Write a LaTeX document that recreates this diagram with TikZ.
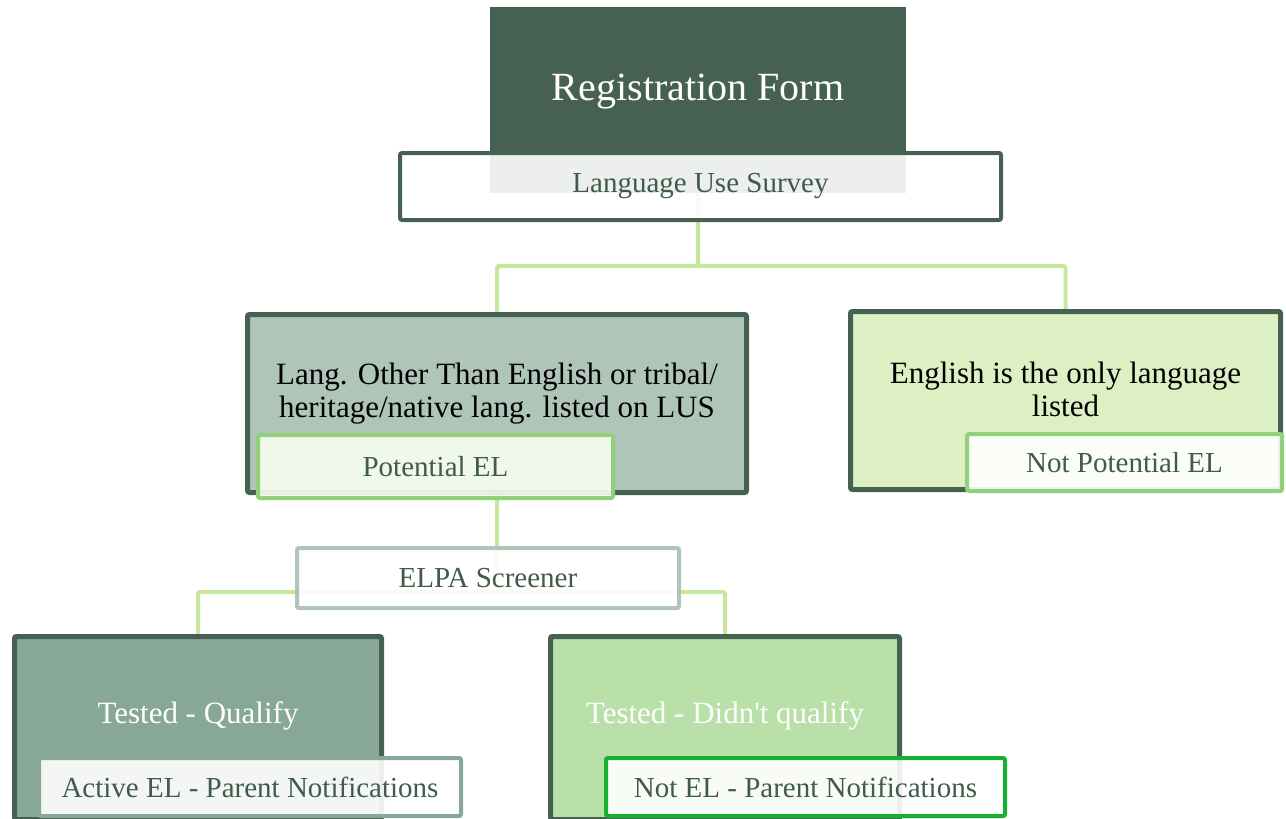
\documentclass[tikz,border=0pt]{standalone}
\usepackage{fontspec}
\setmainfont{Liberation Serif}
\usetikzlibrary{positioning, calc, backgrounds}
\definecolor{pine}{HTML}{466152}
\definecolor{pinetext}{HTML}{3F5B4A}
\definecolor{leaf}{HTML}{C6E89E}
\definecolor{sage}{HTML}{B0C5B9}
\definecolor{sagemid}{HTML}{87A896}
\definecolor{lime}{HTML}{DCF0C4}
\definecolor{limemid}{HTML}{B8E0A8}
\definecolor{mint}{HTML}{92D07C}
\definecolor{mintfill}{HTML}{F8FEF0}
\definecolor{vivid}{HTML}{12B131}

\begin{document}
\begin{tikzpicture}[
        x=1pt, y=-1pt,
        mainbox/.style={draw=pine, line width=5pt, rounded corners=2pt, inner sep=0pt},
        subbox/.style={line width=4pt, rounded corners=2pt, fill=white, fill opacity=0.9, text opacity=1, text=pinetext, inner sep=0pt, font=\fontsize{29}{32}\selectfont},
        maintext/.style={align=center, font=\fontsize{31}{33}\selectfont},
        link/.style={draw=leaf, line width=4pt, rounded corners=2pt}
    ]
        \clip (0,0) rectangle (1286,819);

        \node[fill=pine, minimum width=416pt, minimum height=186pt, inner sep=0pt] (reg) at (698,100) {};
        \node[text=white, font=\fontsize{40}{44}\selectfont] (regtext) at ([yshift=8pt]reg.center) {Registration Form};
        \node[subbox, draw=pine, minimum width=601pt, minimum height=67pt] (lus) at (700.5,186.5) {Language Use Survey};

        \node[mainbox, fill=sage, minimum width=499pt, minimum height=178pt] (otherlang) at (497,403.5) {};
        \node[maintext] (otherlangtext) at ([yshift=10pt]otherlang.center) {Lang. Other Than English or tribal/\\heritage/native lang. listed on LUS};
        \node[subbox, draw=mint, fill=mintfill, minimum width=355pt, minimum height=63pt] (potential) at (435.5,466.5) {Potential EL};

        \node[mainbox, fill=lime, minimum width=430pt, minimum height=178pt] (english) at (1065.5,400.5) {};
        \node[maintext] (englishtext) at ([yshift=11.5pt]english.center) {English is the only language\\listed};
        \node[subbox, draw=mint, minimum width=315pt, minimum height=57pt] (notpotential) at (1124.5,462.5) {Not Potential EL};

        \node[subbox, draw=sage, minimum width=382pt, minimum height=60pt] (elpa) at (488,578) {ELPA Screener};

        \node[mainbox, fill=sagemid, minimum width=367pt, minimum height=183pt] (qualify) at (198,728) {};
        \node[maintext, text=white] (qualifytext) at ([yshift=12pt]qualify.center) {Tested - Qualify};
        \node[subbox, draw=sagemid, minimum width=422pt, minimum height=58pt] (activeel) at (250,787) {Active EL - Parent Notifications};

        \node[mainbox, fill=limemid, minimum width=349pt, minimum height=183pt] (notqualify) at (725,728) {};
        \node[maintext, text=white] (notqualifytext) at ([yshift=12pt]notqualify.center) {Tested - Didn\textquotesingle t qualify};
        \node[subbox, draw=vivid, minimum width=399pt, minimum height=58pt] (notel) at (805.5,787) {Not EL - Parent Notifications};

        \coordinate (fork) at (698,266);
        \coordinate (forklow) at (497,592);
        \begin{scope}[on background layer]
            \draw[link] (reg.center) -- (fork) -| (otherlang.north);
            \draw[link] (fork) -| (english.north);
            \draw[link] (otherlang.center) -- (forklow);
            \draw[link] (qualify.north) |- (forklow) -| (notqualify.north);
        \end{scope}
    \end{tikzpicture}
\end{document}
